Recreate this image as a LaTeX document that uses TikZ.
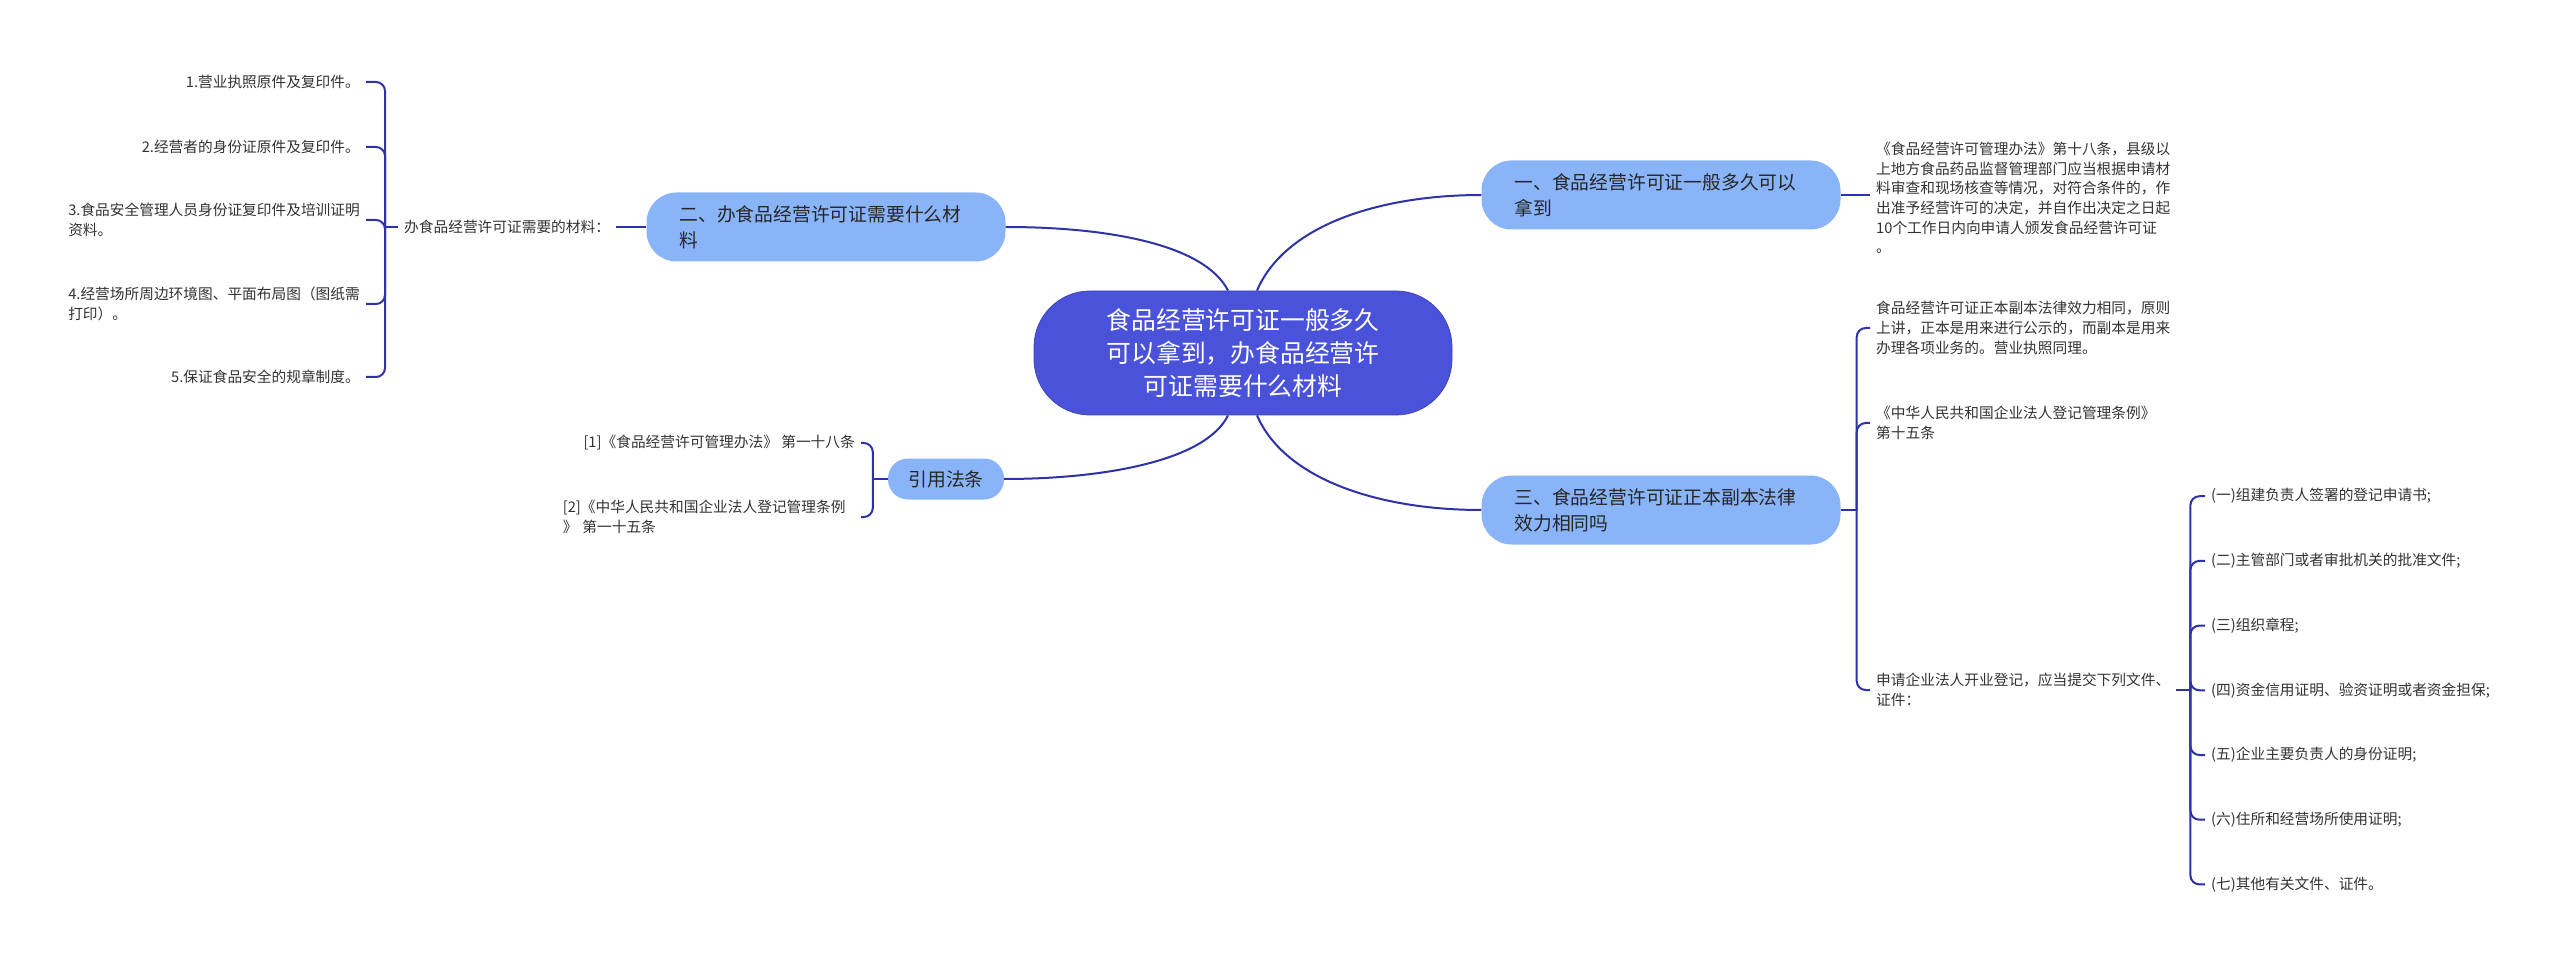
\documentclass[tikz,border=0pt]{standalone}
\usepackage{fontspec}
\setmainfont{Noto Sans CJK SC}
\usetikzlibrary{calc}

\definecolor{rootblue}{HTML}{4A52D9}
\definecolor{topicblue}{HTML}{8AB4F8}
\definecolor{linkblue}{HTML}{2D32A8}
\definecolor{leafgray}{HTML}{333333}

\begin{document}
\begin{tikzpicture}[
    x=1pt, y=-1pt,
    root/.style={draw=rootblue!85!black, line width=0.8pt, fill=rootblue, text=white, rounded corners=56pt,
      minimum width=418pt, minimum height=124pt, align=center, font=\fontsize{24.8}{32.7}\selectfont},
    topic/.style={fill=topicblue, text=black!85, rounded corners=30pt, text width=293pt, inner xsep=33pt,
      minimum height=69pt, align=left, font=\fontsize{18.8}{26}\selectfont},
    tag/.style={fill=topicblue, text=black!85, rounded corners=20pt, minimum width=116pt, minimum height=41pt,
      font=\fontsize{18.8}{26}\selectfont},
    leaf/.style={text=leafgray, inner xsep=6pt, inner ysep=2pt, align=left, font=\fontsize{14.7}{19.6}\selectfont},
    link/.style={draw=linkblue, line width=2pt},
    fork/.style={link, rounded corners=9pt},
  ]
  \useasboundingbox[fill=white] (0,0) rectangle (2560,965);

  % Centre and main topics
  \node[root] (root) at (1243,353) {食品经营许可证一般多久\\可以拿到，办食品经营许\\可证需要什么材料};
  \node[topic] (t1) at (1661,195) {一、食品经营许可证一般多久可以\\拿到};
  \node[topic] (t2) at (826,227) {二、办食品经营许可证需要什么材\\料};
  \node[topic] (t3) at (1661,510) {三、食品经营许可证正本副本法律\\效力相同吗};
  \node[tag] (cite) at (946,479) {引用法条};

  \draw[link] ($(root.north)+(-15,0)$) .. controls (1205,245) and (1110,227) .. (t2.east);
  \draw[link] ($(root.north)+(14,0)$) .. controls (1285,225) and (1380,195) .. (t1.west);
  \draw[link] ($(root.south)+(-15,0)$) .. controls (1205,462) and (1100,479) .. (cite.east);
  \draw[link] ($(root.south)+(14,0)$) .. controls (1285,480) and (1380,510) .. (t3.west);

  % Materials
  \node[leaf, anchor=west] (need) at (398,227) {办食品经营许可证需要的材料：};
  \node[leaf, anchor=east] (m1) at (366,82) {1.营业执照原件及复印件。};
  \node[leaf, anchor=east] (m2) at (366,147) {2.经营者的身份证原件及复印件。};
  \node[leaf, anchor=east] (m3) at (366,220) {3.食品安全管理人员身份证复印件及培训证明\\资料。};
  \node[leaf, anchor=east] (m4) at (366,304) {4.经营场所周边环境图、平面布局图（图纸需\\打印）。};
  \node[leaf, anchor=east] (m5) at (366,377) {5.保证食品安全的规章制度。};
  \coordinate (needfork) at ($(need.west)+(-13,0)$);
  \draw[link] (t2.west) -- (need.east);
  \draw[link] (need.west) -- (needfork);
  \foreach \i in {1,...,5} \draw[fork] (needfork) |- (m\i.east);

  % Cited articles
  \node[leaf, anchor=east] (r1) at (861,443) {[1]《食品经营许可管理办法》 第一十八条};
  \node[leaf, anchor=east, text width=292pt] (r2) at (861,517) {[2]《中华人民共和国企业法人登记管理条例\\》 第一十五条};
  \coordinate (citefork) at ($(cite.west)+(-15,0)$);
  \draw[link] (cite.west) -- (citefork);
  \foreach \r in {r1,r2} \draw[fork] (citefork) |- (\r.east);

  % Time limit
  \node[leaf, anchor=west] (law) at (1870,198) {《食品经营许可管理办法》第十八条，县级以\\上地方食品药品监督管理部门应当根据申请材\\料审查和现场核查等情况，对符合条件的，作\\出准予经营许可的决定，并自作出决定之日起\\10个工作日内向申请人颁发食品经营许可证\\。};
  \draw[link] (t1.east) -- (t1.east -| law.west);

  % Original and copy
  \node[leaf, anchor=west] (same) at (1870,328) {食品经营许可证正本副本法律效力相同，原则\\上讲，正本是用来进行公示的，而副本是用来\\办理各项业务的。营业执照同理。};
  \node[leaf, anchor=west] (rule) at (1870,423) {《中华人民共和国企业法人登记管理条例》\\第十五条};
  \node[leaf, anchor=west] (apply) at (1870,690) {申请企业法人开业登记，应当提交下列文件、\\证件：};
  \coordinate (samefork) at ($(t3.east)+(16,0)$);
  \draw[link] (t3.east) -- (samefork);
  \foreach \n in {same,rule,apply} \draw[fork] (samefork) |- (\n.west);

  % Documents
  \foreach \txt [count=\i] in {{(一)组建负责人签署的登记申请书;}, {(二)主管部门或者审批机关的批准文件;},
      {(三)组织章程;}, {(四)资金信用证明、验资证明或者资金担保;}, {(五)企业主要负责人的身份证明;},
      {(六)住所和经营场所使用证明;}, {(七)其他有关文件、证件。}}
    \node[leaf, anchor=west] (d\i) at (2205,431.5+64.7*\i) {\txt};
  \coordinate (docfork) at ($(apply.east)+(14,0)$);
  \draw[link] (apply.east) -- (docfork);
  \foreach \i in {1,...,7} \draw[fork] (docfork) |- (d\i.west);
\end{tikzpicture}
\end{document}
